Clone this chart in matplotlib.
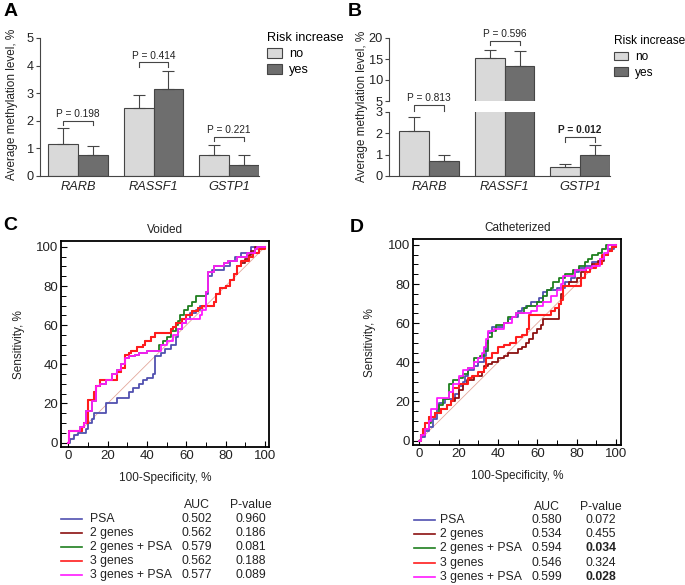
import matplotlib
matplotlib.use("Agg")
import matplotlib.pyplot as plt
import numpy as np
from matplotlib.lines import Line2D
from matplotlib.patches import Patch

plt.rcParams['font.family'] = ['Liberation Sans', 'DejaVu Sans']

W, H = 685, 585

genes = ["RARB", "RASSF1", "GSTP1"]

# panel A - voided urine
a_no = [1.15, 2.46, 0.76]
a_no_err = [0.59, 0.46, 0.35]
a_yes = [0.76, 3.14, 0.41]
a_yes_err = [0.34, 0.65, 0.36]
a_ptext = ["P = 0.198", "P = 0.414", "P = 0.221"]

# panel B - catheterized urine
b_no = [2.12, 15.2, 0.41]
b_no_err = [0.66, 2.0, 0.15]
b_yes = [0.72, 13.3, 0.97]
b_yes_err = [0.25, 3.5, 0.47]
b_ptext = ["P = 0.813", "P = 0.596", "P = 0.012"]

# ROC curves (x = 100-specificity, y = sensitivity), step points
roc_names = ["PSA", "2 genes", "2 genes + PSA", "3 genes", "3 genes + PSA"]
roc_colors = ["#5050b0", "#8b1111", "#1f7f1f", "#ff1c1c", "#ff1aff"]

c_psa_x = [0, 1, 3, 5, 9, 10, 12, 13, 19, 25, 31, 33, 36, 38, 40, 43, 44, 47, 49, 52, 55, 56, 58, 60, 62, 65, 67, 70, 71, 73, 79, 82, 85, 88, 93, 100]
c_psa_y = [0, 2, 4, 5, 7, 10, 12, 15, 20, 23, 26, 28, 30, 32, 33, 35, 44, 46, 48, 50, 54, 58, 61, 63, 66, 68, 70, 76, 85, 88, 90, 93, 95, 97, 100, 100]
c_g2_x = [0, 0.5, 7, 8, 10, 13, 14, 16, 25, 27, 29, 31, 32, 35, 38, 39, 42, 44, 52, 53, 55, 58, 60, 63, 66, 68, 74, 75, 77, 80, 82, 84, 86, 88, 90, 92, 93, 95, 100]
c_g2_y = [0, 6, 8, 10, 22, 26, 29, 32, 36, 38, 45, 46, 47, 49, 50, 52, 54, 56, 58, 59, 61, 63, 65, 67, 69, 70, 72, 76, 79, 80, 83, 86, 90, 92, 94, 96, 98, 100, 100]
c_g2p_x = [0, 0.5, 6, 8, 9, 12, 14, 16, 19, 22, 25, 27, 29, 31, 34, 36, 40, 46, 48, 50, 52, 55, 56, 57, 59, 61, 63, 65, 69, 70, 71, 74, 79, 81, 86, 91, 95, 96, 100]
c_g2p_y = [0, 6, 8, 10, 16, 21, 29, 30, 32, 35, 37, 40, 43, 44, 45, 46, 47, 50, 52, 54, 57, 60, 62, 65, 68, 70, 72, 75, 75, 77, 87, 90, 92, 93, 95, 97, 99, 100, 100]
c_g3_x = [0, 0.5, 7, 8, 10, 13, 14, 16, 25, 27, 29, 31, 32, 35, 38, 39, 42, 44, 52, 53, 55, 58, 60, 63, 66, 68, 74, 75, 77, 80, 82, 84, 86, 88, 92, 94, 97, 100]
c_g3_y = [0, 6, 8, 10, 22, 26, 29, 32, 36, 38, 45, 46, 47, 49, 50, 52, 54, 56, 58, 59, 61, 63, 65, 67, 69, 70, 72, 76, 79, 80, 83, 86, 90, 93, 95, 97, 99, 100]
c_g3p_x = [0, 0.5, 6, 8, 9, 12, 14, 16, 19, 22, 25, 27, 29, 31, 34, 36, 40, 47, 50, 53, 56, 58, 60, 67, 68, 70, 71, 74, 79, 81, 86, 91, 95, 96, 100]
c_g3p_y = [0, 6, 8, 10, 16, 21, 29, 30, 32, 35, 37, 40, 43, 44, 45, 46, 47, 50, 52, 55, 58, 61, 63, 65, 68, 77, 87, 90, 92, 93, 95, 97, 99, 100, 100]

d_psa_x = [0, 1, 3, 5, 7, 9, 10, 13, 18, 20, 22, 23, 25, 28, 30, 33, 34, 35, 37, 43, 45, 47, 50, 52, 54, 57, 61, 63, 65, 70, 74, 77, 79, 81, 84, 88, 92, 94, 96, 99, 100]
d_psa_y = [0, 2, 5, 7, 11, 16, 19, 21, 24, 28, 30, 33, 36, 38, 40, 43, 50, 55, 58, 60, 62, 63, 66, 68, 69, 71, 73, 76, 77, 78, 81, 83, 86, 88, 89, 91, 93, 95, 98, 100, 100]
d_g2_x = [0, 1, 2, 3, 5, 8, 11, 14, 16, 18, 20, 22, 24, 28, 32, 33, 35, 37, 40, 43, 45, 50, 52, 54, 56, 58, 60, 62, 63, 70, 71, 72, 73, 76, 80, 82, 85, 88, 91, 94, 96, 98, 100]
d_g2_y = [0, 3, 6, 9, 12, 14, 16, 18, 20, 22, 26, 29, 31, 33, 35, 38, 39, 40, 42, 43, 45, 47, 48, 50, 52, 55, 57, 59, 62, 62, 70, 75, 79, 81, 83, 86, 88, 90, 92, 95, 97, 99, 100]
d_g2p_x = [0, 1, 3, 5, 6, 8, 10, 12, 15, 17, 20, 22, 25, 28, 31, 33, 35, 37, 39, 43, 45, 49, 53, 55, 60, 63, 65, 67, 68, 71, 74, 78, 81, 84, 86, 88, 91, 93, 95, 100]
d_g2p_y = [0, 3, 6, 9, 12, 14, 18, 21, 29, 31, 32, 34, 37, 42, 43, 46, 53, 56, 59, 60, 63, 65, 68, 69, 71, 74, 77, 78, 81, 83, 85, 87, 89, 91, 93, 95, 96, 98, 100, 100]
d_g3_x = [0, 1, 2, 3, 5, 8, 11, 14, 16, 17, 20, 25, 27, 30, 33, 34, 37, 40, 43, 46, 49, 52, 55, 56, 64, 67, 69, 71, 72, 73, 80, 82, 84, 87, 90, 93, 96, 98, 100]
d_g3_y = [0, 3, 6, 9, 12, 14, 16, 18, 20, 27, 29, 32, 33, 35, 37, 42, 45, 48, 49, 50, 53, 54, 57, 64, 64, 66, 68, 70, 72, 79, 79, 83, 86, 88, 90, 95, 97, 99, 100]
d_g3p_x = [0, 1, 3, 5, 6, 9, 15, 17, 20, 22, 25, 28, 30, 32, 33, 34, 35, 38, 43, 47, 49, 57, 60, 63, 67, 70, 72, 73, 79, 85, 88, 92, 94, 96, 100]
d_g3p_y = [0, 3, 6, 10, 16, 22, 25, 29, 33, 36, 37, 40, 42, 45, 48, 52, 56, 57, 60, 63, 65, 66, 69, 71, 74, 77, 80, 84, 87, 88, 89, 93, 96, 100, 100]

c_auc = ["0.502", "0.562", "0.579", "0.562", "0.577"]
c_pval = ["0.960", "0.186", "0.081", "0.188", "0.089"]
d_auc = ["0.580", "0.534", "0.594", "0.546", "0.599"]
d_pval = ["0.072", "0.455", "0.034", "0.324", "0.028"]

LIGHT = "#d9d9d9"
DARK = "#6e6e6e"
EDGE = "#454545"
TXT = "#222222"


def fx(px):
    return px / W


def fy(py):
    return 1 - py / H


def rect(l, t, r, b):
    return [fx(l), fy(b), (r - l) / W, (b - t) / H]


fig = plt.figure(figsize=(W / 100, H / 100), dpi=100)

bw = 0.397


def draw_bars(ax, no, no_err, yes, yes_err):
    x = np.arange(len(genes))
    ek = dict(ecolor=EDGE, elinewidth=0.8, capsize=4.5, capthick=0.8)
    ax.bar(x - bw / 2, no, bw, yerr=[np.zeros(len(no)), no_err], color=LIGHT,
           edgecolor=EDGE, linewidth=0.8, error_kw=ek, label="no")
    ax.bar(x + bw / 2, yes, bw, yerr=[np.zeros(len(yes)), yes_err], color=DARK,
           edgecolor=EDGE, linewidth=0.8, error_kw=ek, label="yes")
    for s in ["top", "right"]:
        ax.spines[s].set_visible(False)
    for s in ["left", "bottom"]:
        ax.spines[s].set_color(EDGE)
        ax.spines[s].set_linewidth(0.8)
    ax.tick_params(axis="y", labelsize=9.2, colors=EDGE, labelcolor=TXT, length=3, width=0.8, pad=1.5)


def bracket(ax, i, y, drop, text, gap, bold=False):
    x0, x1 = i - bw / 2, i + bw / 2
    ax.plot([x0, x0, x1, x1], [y - drop, y, y, y - drop], color=EDGE, lw=0.8, clip_on=False)
    ax.text(i, y + gap, text, ha="center", va="bottom", fontsize=7.3, color=TXT,
            fontweight="bold" if bold else "normal", clip_on=False)


def legend_risk(ax, x, size):
    handles = [Patch(facecolor=LIGHT, edgecolor=EDGE, linewidth=0.8),
               Patch(facecolor=DARK, edgecolor=EDGE, linewidth=0.8)]
    leg = ax.legend(handles, ["no", "yes"], title="Risk increase", frameon=False,
                    loc="upper left", bbox_to_anchor=(x, 1.04), fontsize=size,
                    title_fontsize=size, alignment="left", borderaxespad=0, borderpad=0,
                    handlelength=1.2, handleheight=0.75, handletextpad=0.55, labelspacing=0.3)
    return leg


# ---- A ----
axA = fig.add_axes(rect(40, 38, 259, 176))
draw_bars(axA, a_no, a_no_err, a_yes, a_yes_err)
axA.set_ylim(0, 5)
axA.set_xlim(-0.503, 2.397)
axA.set_yticks(range(6))
axA.set_xticks(range(3))
axA.set_xticklabels(genes, style="italic", fontsize=9.2, color=TXT)
axA.tick_params(axis="x", length=0)
fig.text(fx(12), fy(104), "Average methylation level, %", rotation=90, fontsize=8.5,
         color=TXT, ha="center", va="center")
bracket(axA, 0, 2.0, 0.15, a_ptext[0], 0.06)
bracket(axA, 1, 4.12, 0.16, a_ptext[1], 0.06)
bracket(axA, 2, 1.42, 0.15, a_ptext[2], 0.06)
legend_risk(axA, 1.037, 9.2)

# ---- B (broken axis) ----
axBt = fig.add_axes(rect(389, 38, 610, 101))
axBb = fig.add_axes(rect(389, 112, 610, 176))
for ax in (axBt, axBb):
    draw_bars(ax, b_no, b_no_err, b_yes, b_yes_err)
    ax.set_xlim(-0.53, 2.397)
    ax.set_xticks(range(3))
axBt.set_ylim(5, 20)
axBt.set_yticks([5, 10, 15, 20])
axBt.spines["bottom"].set_visible(False)
axBt.tick_params(axis="x", length=0, labelbottom=False)
axBb.set_ylim(0, 3)
axBb.set_yticks([0, 1, 2, 3])
axBb.set_xticklabels(genes, style="italic", fontsize=9.2, color=TXT)
axBb.tick_params(axis="x", length=0)
fig.text(fx(362), fy(106), "Average methylation level, %", rotation=90, fontsize=8.5,
         color=TXT, ha="center", va="center")
bracket(axBb, 0, 3.33, 0.28, b_ptext[0], 0.1)
bracket(axBt, 1, 19.36, 1.0, b_ptext[1], 0.5)
bracket(axBb, 2, 1.81, 0.2, b_ptext[2], 0.1, bold=True)
legend_risk(axBt, (614 - 389) / 221, 8.6)

# ---- ROC panels ----
c_curves = [(c_psa_x, c_psa_y), (c_g2_x, c_g2_y), (c_g2p_x, c_g2p_y), (c_g3_x, c_g3_y), (c_g3p_x, c_g3p_y)]
d_curves = [(d_psa_x, d_psa_y), (d_g2_x, d_g2_y), (d_g2p_x, d_g2p_y), (d_g3_x, d_g3_y), (d_g3p_x, d_g3p_y)]


def roc_panel(ax, curves, title, xlim, ylim, ylab_x):
    ax.plot([0, 100], [0, 100], color="#e3a89c", lw=0.6)
    for (x, y), col in zip(curves, roc_colors):
        ax.step(x, y, where="post", color=col, lw=1.5 if col == "#ff1c1c" else 1.3)
    ax.set_xlim(*xlim)
    ax.set_ylim(*ylim)
    ax.set_xticks(range(0, 101, 20))
    ax.set_yticks(range(0, 101, 20))
    ax.set_xticks(range(0, 101, 10), minor=True)
    ax.set_yticks(range(0, 101, 5), minor=True)
    ax.tick_params(which="both", direction="in")
    ax.tick_params(which="major", labelsize=9.5, labelcolor=TXT, length=4.5, width=0.8, pad=2)
    ax.tick_params(which="minor", length=3.5, width=0.7)
    for s in ax.spines.values():
        s.set_linewidth(1.3)
    ax.text(0.5, 1.055, title, transform=ax.transAxes, ha="center", va="center",
            fontsize=8.5, color=TXT)
    ax.set_xlabel("100-Specificity, %", fontsize=8.5, color=TXT)
    ax.xaxis.set_label_coords(0.5, -0.12)
    ax.set_ylabel("Sensitivity, %", fontsize=8.5, color=TXT)
    ax.yaxis.set_label_coords(ylab_x, 0.5)


axC = fig.add_axes(rect(61, 241, 269.3, 447.3))
roc_panel(axC, c_curves, "Voided", (-3.7, 102.2), (-2.4, 103.0), -0.175)
axD = fig.add_axes(rect(413, 239, 621.3, 445.3))
roc_panel(axD, d_curves, "Catheterized", (-3.2, 102.7), (-2.4, 103.0), -0.178)


def roc_table(line_x0, name_x, auc_x, p_x, head_y, row_y0, dy, aucs, pvals):
    fig.text(fx(auc_x), fy(head_y), "AUC", ha="center", va="center", fontsize=8.8, color=TXT)
    fig.text(fx(p_x), fy(head_y), "P-value", ha="center", va="center", fontsize=8.8, color=TXT)
    for k, name in enumerate(roc_names):
        y = row_y0 + k * dy
        fig.add_artist(Line2D([fx(line_x0), fx(line_x0 + 21)], [fy(y), fy(y)],
                              color=roc_colors[k], lw=1.2, transform=fig.transFigure))
        fig.text(fx(name_x), fy(y), name, ha="left", va="center", fontsize=8.8, color=TXT)
        fig.text(fx(auc_x), fy(y), aucs[k], ha="center", va="center", fontsize=8.8, color=TXT)
        bold = float(pvals[k]) < 0.05
        fig.text(fx(p_x), fy(y), pvals[k], ha="center", va="center", fontsize=8.8, color=TXT,
                 fontweight="bold" if bold else "normal")


roc_table(61, 90, 197, 251, 505, 519, 14, c_auc, c_pval)
roc_table(414, 440, 547, 601, 507, 520, 14.2, d_auc, d_pval)

# panel letters
for letter, (px, py) in zip("ABCD", [(11, 12), (355, 12), (10, 225), (357, 228)]):
    fig.text(fx(px), fy(py), letter, fontsize=14, fontweight="bold", ha="center", va="center")

fig.savefig("out.png", dpi=100)
